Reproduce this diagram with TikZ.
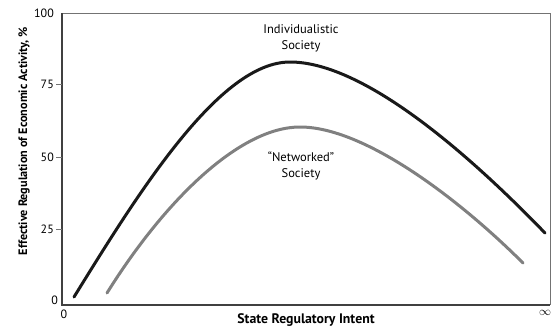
\documentclass[tikz,border=0pt]{standalone}
\usepackage{fontspec}
\setmainfont{PT Sans}
\usetikzlibrary{positioning,calc}
\tikzset{
	curvelabel/.style={
		align=center, inner sep=0pt, font=\fontsize{12.5}{16}\selectfont
	},
	%
	ticklabel/.style={
		inner sep=0pt, font=\fontsize{12}{14}\selectfont
	},
	%
	axislabel/.style={
		inner sep=0pt, font=\bfseries\fontsize{12.2}{13}\selectfont
	},
	%
	individual/.style={
		line width=3pt, black!90, line cap=round
	},
	%
	networked/.style={
		line width=3pt, black!50, line cap=round
	}
}
\begin{document}
\begin{tikzpicture}[x=1pt,y=-1pt]
    \useasboundingbox (0,0) rectangle (558,330);
    % frame
    \coordinate (O) at (62,305);
    \coordinate (TL) at (62,13);
    \coordinate (TR) at (550,13);
    \coordinate (BR) at (550,305);
    \draw[black!55, line width=0.9pt] (TL) -- (TR) -- (BR);
    \draw[black!75, line width=1.2pt] (TL) -- (O) -- (BR);
    % ticks
    \draw[black!55, line width=1pt] (56,84) -- (62,84);
    \draw[black!55, line width=1pt] (56,157) -- (62,157);
    \draw[black!55, line width=1pt] (56,229) -- (62,229);
    \node(y100)[ticklabel, anchor=east] at (54,13){100};
    \node(y75)[ticklabel, anchor=east] at (54,84){75};
    \node(y50)[ticklabel, anchor=east] at (54,157){50};
    \node(y25)[ticklabel, anchor=east] at (54,229){25};
    \node(y0)[ticklabel, anchor=east] at (58,300){0};
    \node(x0)[ticklabel] at (64,314){0};
    \node(xinf)[ticklabel] at (545,313){$\infty$};
    % axis titles
    \node(xtitle)[axislabel, font=\bfseries\fontsize{13.8}{15}\selectfont] at (306,320){State Regulatory Intent};
    \node(ytitle)[axislabel, rotate=90] at (24,141){Effective Regulation of Economic Activity, \%};
    % curves
    \coordinate (indivpeak) at (290,62);
    \coordinate (netwpeak) at (300,127);
    \draw[individual] (74,297) .. controls (140,190) and (220,62) .. (indivpeak)
        .. controls (360,62) and (460,145) .. (545,233);
    \draw[networked] (107,293) .. controls (165,200) and (240,127) .. (netwpeak)
        .. controls (365,127) and (460,200) .. (523,263);
    \node(indiv)[curvelabel] at (301,38){Individualistic\\Society};
    \node(netw)[curvelabel] at (301,166){“Networked”\\Society};
\end{tikzpicture}
\end{document}
